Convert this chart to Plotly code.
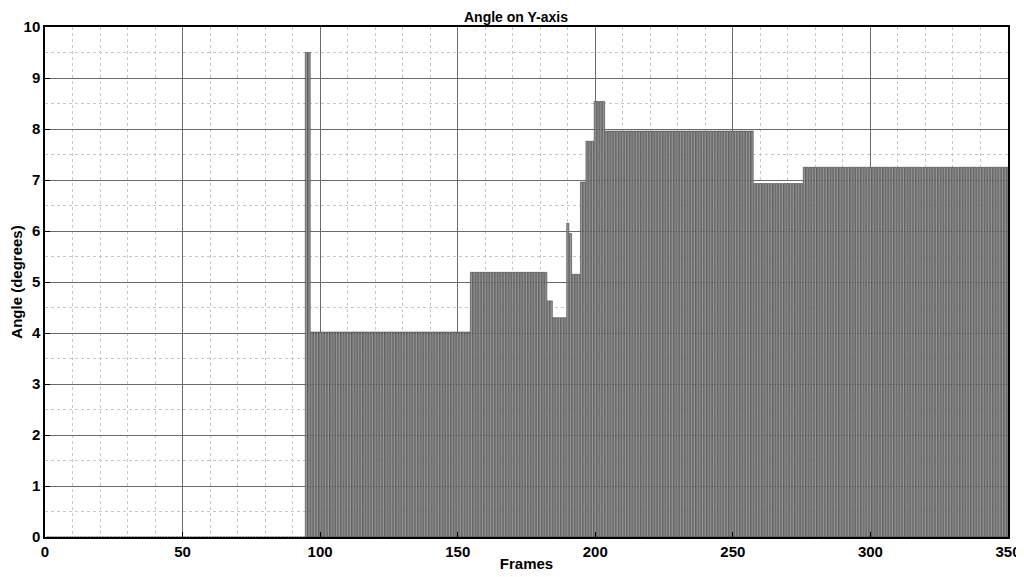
import plotly.graph_objects as go

# Step segments: (first frame, last frame, angle)
seg_start = [1, 95, 97, 155, 183, 185, 190, 191, 192, 195, 197, 200, 204, 258, 276]
seg_end   = [94, 96, 154, 182, 184, 189, 190, 191, 194, 196, 199, 203, 257, 275, 350]
seg_value = [0.0, 9.5, 4.02, 5.19, 4.63, 4.3, 6.15, 5.95, 5.15, 6.96, 7.76, 8.54, 7.96, 6.93, 7.25]

frames = []
angles = []
for s, e, v in zip(seg_start, seg_end, seg_value):
    for f in range(s, e + 1):
        frames.append(f)
        angles.append(v)

x_ticks = [0, 50, 100, 150, 200, 250, 300, 350]
y_ticks = list(range(0, 11))

font_main = dict(family="Liberation Sans, Arial, sans-serif", size=15, color="black", weight="bold")

fig = go.Figure()
fig.add_trace(go.Bar(
    x=frames, y=angles,
    marker=dict(color="#959595", line=dict(color="#222222", width=0.5)),
    width=0.8,
))

# page body has an 8px default margin, so the figure is sized/margined to compensate
fig.update_layout(
    width=1016, height=569,
    margin=dict(l=37, r=16, t=19, b=40, autoexpand=False),
    paper_bgcolor="white", plot_bgcolor="white",
    showlegend=False,
    title=dict(text="Angle on Y-axis", x=0.5, xanchor="center", y=0.993, yanchor="top",
               automargin=False,
               font=dict(family="Liberation Sans, Arial, sans-serif", size=14, color="black", weight="bold")),
    font=font_main,
    bargap=0.2,
)

fig.update_xaxes(
    range=[0, 350], tickvals=x_ticks, ticks="inside", ticklen=5, tickcolor="black",
    automargin=False,
    showgrid=True, gridcolor="#6a6a6a", gridwidth=1,
    minor=dict(dtick=10, showgrid=True, gridcolor="#c8c8c8", griddash="dot", gridwidth=1),
    showline=True, linecolor="black", linewidth=1.5, mirror=True,
    zeroline=False,
    title=dict(text="Frames", standoff=0, font=font_main),
    tickfont=font_main,
)
fig.update_yaxes(
    range=[0, 10], tickvals=y_ticks, ticks="inside", ticklen=5, tickcolor="black",
    automargin=False,
    showgrid=True, gridcolor="#6a6a6a", gridwidth=1,
    minor=dict(dtick=0.5, showgrid=True, gridcolor="#c8c8c8", griddash="dot", gridwidth=1),
    showline=True, linecolor="black", linewidth=1.5, mirror=True,
    zeroline=False,
    title=dict(text="Angle (degrees)", standoff=2, font=font_main),
    tickfont=font_main,
)

fig.write_html("out.html")
